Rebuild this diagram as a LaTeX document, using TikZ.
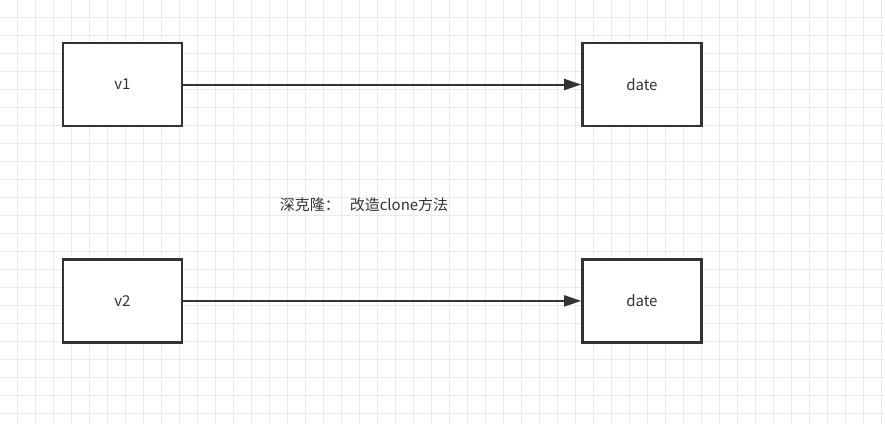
\documentclass[tikz,border=0pt]{standalone}
\usepackage{fontspec}
\setmainfont{Noto Sans CJK SC}
\usetikzlibrary{arrows.meta,positioning}
\definecolor{colorGrid}{HTML}{EBEBEB}
\definecolor{colorBox}{HTML}{333333}

\begin{document}
\begin{tikzpicture}[
    x=1pt, y=1pt,
    gridline/.style={draw=colorGrid, line width=0.8pt},
    box/.style={
      rectangle, draw=colorBox, fill=white, line width=2.4pt,
      minimum width=119pt, minimum height=83pt,
      font=\fontsize{15}{17}\selectfont,
      text=colorBox
    },
    arr/.style={-{Triangle[length=17pt, width=11pt]}, line width=2pt, draw=colorBox}
  ]
    \useasboundingbox (0,0) rectangle (885,-424);
    \fill[white] (0,0) rectangle (885,-424);
    % grid
    \foreach \i in {0,...,48}
      \draw[gridline] (17+18*\i,0) -- (17+18*\i,-424);
    \foreach \j in {0,...,23}
      \draw[gridline] (0,-17-18*\j) -- (885,-17-18*\j);

    \node[box] (v1) at (122.5,-84.5) {v1};
    \node[box, right=398pt of v1] (date1) {date};
    \node[box, below=131pt of v1] (v2) {v2};
    \node[box, right=398pt of v2] (date2) {date};

    \node[font=\fontsize{15}{17}\selectfont, text=colorBox] (note) at (364,-205) {深克隆：\hspace{10pt}改造clone方法};

    \draw[arr] (v1) -- (date1);
    \draw[arr] (v2) -- (date2);
  \end{tikzpicture}
\end{document}
